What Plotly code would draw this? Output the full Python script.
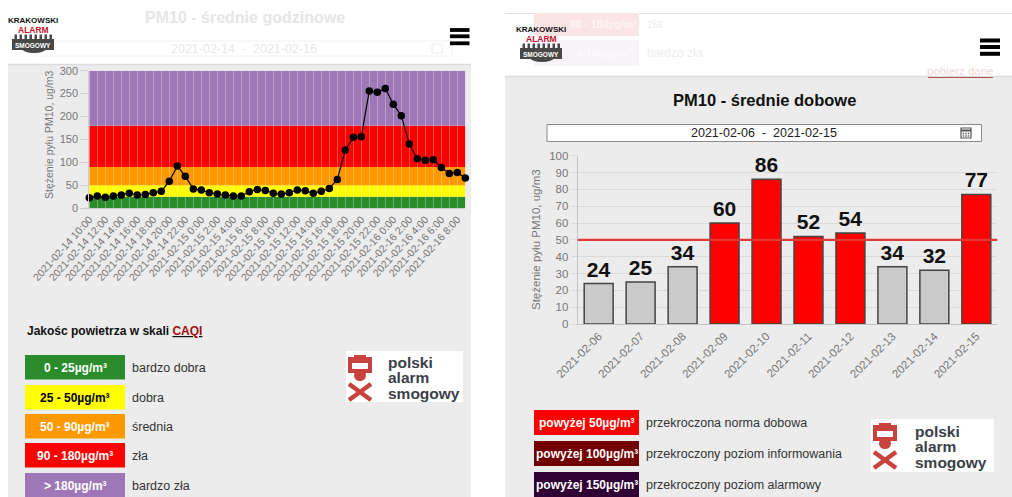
import plotly.graph_objects as go

W, H = 1012, 497
F = "Arial, Liberation Sans, sans-serif"

# ---------------- data ----------------
hour_labels = []
for i in range(48):
    h = 10 + i
    hour_labels.append(f"2021-02-{14 + h // 24:02d} {h % 24}:00")

pm10_hourly = [23, 27, 24, 27, 29, 33, 29, 30, 34, 37, 59, 92, 70, 42, 40, 34,
               31, 29, 27, 27, 36, 41, 39, 33, 31, 34, 40, 38, 33, 37, 43, 63,
               127, 155, 156, 256, 253, 261, 227, 202, 140, 108, 105, 106, 89, 76, 78, 66]
band_limits = [0, 25, 50, 90, 180, 300]
band_colors = ["#2a8c2a", "#ffff00", "#ff9900", "#ff0000", "#9e78b6"]
hourly_ticks = [0, 50, 100, 150, 200, 250, 300]

days = ["2021-02-06", "2021-02-07", "2021-02-08", "2021-02-09", "2021-02-10",
        "2021-02-11", "2021-02-12", "2021-02-13", "2021-02-14", "2021-02-15"]
pm10_daily = [24, 25, 34, 60, 86, 52, 54, 34, 32, 77]
daily_norm = 50

caqi_ranges = ["0 - 25µg/m³", "25 - 50µg/m³", "50 - 90µg/m³", "90 - 180µg/m³", "> 180µg/m³"]
caqi_names = ["bardzo dobra", "dobra", "średnia", "zła", "bardzo zła"]
caqi_text_colors = ["white", "black", "white", "white", "white"]
alert_labels = ["powyżej 50µg/m³", "powyżej 100µg/m³", "powyżej 150µg/m³"]
alert_names = ["przekroczona norma dobowa", "przekroczony poziom informowania",
               "przekroczony poziom alarmowy"]
alert_colors = ["#ff0000", "#730000", "#2e0033"]


def X(p):
    return p / W


def Y(p):
    return 1 - p / H


shapes = []
annos = []


def rect(x0, y0, x1, y1, fill, line=None, lw=1, layer="below"):
    shapes.append(dict(type="rect", xref="paper", yref="paper",
                       x0=X(x0), x1=X(x1), y0=Y(y1), y1=Y(y0),
                       fillcolor=fill, layer=layer,
                       line=dict(color=line if line else "rgba(0,0,0,0)", width=lw if line else 0)))


def seg(x0, y0, x1, y1, color, w=1, layer="above"):
    shapes.append(dict(type="line", xref="paper", yref="paper",
                       x0=X(x0), x1=X(x1), y0=Y(y0), y1=Y(y1), layer=layer,
                       line=dict(color=color, width=w)))


def ell(x0, y0, x1, y1, fill, layer="above"):
    shapes.append(dict(type="circle", xref="paper", yref="paper",
                       x0=X(x0), x1=X(x1), y0=Y(y1), y1=Y(y0), layer=layer,
                       fillcolor=fill, line=dict(width=0)))


def txt(x, y, s, size=12, color="#333", anchor="left", bold=False, angle=0):
    annos.append(dict(xref="paper", yref="paper", x=X(x), y=Y(y), text=s,
                      showarrow=False, xanchor=anchor, yanchor="middle",
                      textangle=angle,
                      font=dict(family=F, size=size, color=color,
                                weight="bold" if bold else "normal")))


# ---------------- page background ----------------
rect(8, 64, 471, 497, "#ececec")
seg(8, 64.5, 471, 64.5, "#dcdcdc", 1.5, layer="below")
rect(505, 76, 1012, 497, "#ececec")
seg(505, 76.5, 1012, 76.5, "#dcdcdc", 1.5, layer="below")
seg(505, 13.5, 1012, 13.5, "#e2e2e2", 1, layer="below")

# faded header content (left)
txt(245, 17, "PM10 - średnie godzinowe", 16, "#e6e6e6", "center", True)
rect(35, 41, 452, 56, "rgba(0,0,0,0)", "#f2f2f2", 1)
txt(244, 48.5, "2021-02-14  -  2021-02-16", 12.5, "#e8e8e8", "center")
rect(432, 44, 442, 53, "rgba(0,0,0,0)", "#ececec", 1)

# faded header content (right)
rect(534, 13, 639, 36, "#fbe4e4")
txt(603, 24, "90 - 180µg/m³", 10.5, "#fff4f4", "center", True)
txt(645, 24, "zła", 12, "#eeeeee")
rect(534, 40, 639, 66, "#f7f3f9")
txt(604, 53, "> 180µg/m³", 10.5, "#fbfafc", "center", True)
txt(645, 53, "bardzo zła", 12, "#eeeeee")
txt(960, 71, "pobierz dane", 11.5, "#efdada", "center")
seg(928, 77.5, 993, 77.5, "#b05050", 1)

# Krakowski Alarm Smogowy logos
for dx, dy in [(0, 0), (508, 9)]:
    for k in range(8):
        rect(14.5 + dx + k * 5, 34.5 + dy, 17 + dx + k * 5, 40 + dy, "#4a4a4a", layer="above")
    rect(12 + dx, 39 + dy, 54 + dx, 50 + dy, "#484848", layer="above")
    ell(22 + dx, 44 + dy, 46 + dx, 53 + dy, "#484848")
    txt(33 + dx, 21 + dy, "KRAKOWSKI", 8, "#111", "center", True)
    txt(33 + dx, 29.5 + dy, "ALARM", 8.5, "#c8102e", "center", True)
    txt(33 + dx, 46 + dy, "SMOGOWY", 6.5, "white", "center", True)

# hamburgers
for yy in [30, 36.3, 43.3]:
    rect(450, yy - 1.9, 469.5, yy + 1.9, "black", layer="above")
for yy in [40.5, 47, 53.8]:
    rect(980, yy - 2, 1000, yy + 2, "black", layer="above")

# ---------------- right titles ----------------
txt(764, 99.5, "PM10 - średnie dobowe", 16.5, "#111", "center", True)
shapes.append(dict(type="rect", xref="paper", yref="paper", x0=X(547), x1=X(981.5),
                   y0=Y(141.5), y1=Y(124.5), fillcolor="white", layer="below",
                   line=dict(color="#8a8a8a", width=1)))
txt(764, 133, days[0] + "  -  " + days[-1], 12.5, "#222", "center")
rect(961, 128, 971, 138, "white", "#555", 1.2, layer="above")
seg(961, 130.5, 971, 130.5, "#555", 2)
for cx in [963.5, 966, 968.5]:
    for cy in [133.5, 136]:
        rect(cx - 0.7, cy - 0.7, cx + 0.7, cy + 0.7, "#555", layer="above")

# ---------------- left legend ----------------
txt(25, 330.5, "Jakośc powietrza w skali <u><span style='color:#a01010'>CAQI</span></u>",
    12, "#111", "left", True)
caqi_box_y = [355, 385, 414, 443, 473]
for i, name in enumerate(caqi_names):
    y0 = caqi_box_y[i]
    rect(25, y0, 125, y0 + 24.5, band_colors[i])
    txt(75, y0 + 12.5, caqi_ranges[i], 12, caqi_text_colors[i], "center", True)
    txt(130, y0 + 12.5, name, 12.5, "#333")

# ---------------- right legend ----------------
alert_box_y = [410, 441, 472]
for i, name in enumerate(alert_names):
    y0 = alert_box_y[i]
    rect(534, y0, 639, min(y0 + 25, 497), alert_colors[i])
    txt(586.5, y0 + 12.5, alert_labels[i], 12, "white", "center", True)
    txt(644, y0 + 12.5, name, 12.5, "#333")


# ---------------- polski alarm smogowy logos ----------------
def pas_logo(x0, y0, x1, y1, ix, iy, tx, ty):
    rect(x0, y0, x1, y1, "white", layer="above")
    red = "#c8423e"
    rect(ix, iy, ix + 24, iy + 16, red, layer="above")
    rect(ix + 4, iy + 6, ix + 20, iy + 12, "white", layer="above")
    rect(ix + 6, iy - 2, ix + 18, iy + 2, red, layer="above")
    ell(ix + 6, iy + 13, ix + 18, iy + 24, red)
    seg(ix + 1, iy + 27, ix + 23, iy + 43, red, 4.5)
    seg(ix + 23, iy + 27, ix + 1, iy + 43, red, 4.5)
    for k, w in enumerate(["polski", "alarm", "smogowy"]):
        txt(tx, ty + k * 15.5, w, 15.5, "#3b3f48", "left", True)


pas_logo(346, 351, 463, 402, 348, 357, 386, 362)
pas_logo(871, 419, 994, 472, 873, 425, 913, 431)

# axis titles
txt(49, 135, "Stężenie pyłu PM10, ug/m3", 10.5, "#777", "center", False, -90)
txt(536, 240, "Stężenie pyłu PM10, ug/m3", 11.5, "#777", "center", False, -90)

# ---------------- charts ----------------
for i in range(len(band_colors)):
    shapes.append(dict(type="rect", xref="x", yref="y", x0=0, x1=len(pm10_hourly) - 1,
                       y0=band_limits[i], y1=band_limits[i + 1], fillcolor=band_colors[i],
                       line=dict(width=0), layer="below"))
shapes.append(dict(type="line", xref="x2 domain", yref="y2", x0=0, x1=1,
                   y0=daily_norm, y1=daily_norm, layer="above",
                   line=dict(color="#e23a36", width=2.2)))

fig = go.Figure()
fig.add_trace(go.Scatter(x=list(range(len(pm10_hourly))), y=pm10_hourly,
                         mode="lines+markers", cliponaxis=False,
                         line=dict(color="black", width=1.2),
                         marker=dict(size=7.5, color="black"),
                         xaxis="x", yaxis="y", hoverinfo="skip"))
bar_colors = ["#ff0000" if v > daily_norm else "#cacaca" for v in pm10_daily]
fig.add_trace(go.Bar(x=days, y=pm10_daily, width=0.69,
                     marker=dict(color=bar_colors, line=dict(color="#444", width=1.5)),
                     texttemplate="%{y}", textposition="outside", cliponaxis=False,
                     constraintext="none",
                     textfont=dict(family=F, size=21, color="#111", weight="bold"),
                     xaxis="x2", yaxis="y2", hoverinfo="skip"))

fig.update_layout(
    template="none",
    width=W, height=H, margin=dict(l=0, r=0, t=0, b=0, pad=0, autoexpand=False),
    paper_bgcolor="white", plot_bgcolor="rgba(0,0,0,0)",
    showlegend=False, font=dict(family=F),
    shapes=shapes, annotations=annos,
    xaxis=dict(domain=[X(89.3), X(465.3)], range=[0, len(pm10_hourly) - 1],
               tickmode="array", tickvals=list(range(len(hour_labels))),
               ticktext=[lab if i % 2 == 0 else "" for i, lab in enumerate(hour_labels)],
               tickangle=-48, tickfont=dict(size=10.5, color="#777"),
               showgrid=True, gridcolor="rgba(255,255,255,0.28)", gridwidth=1,
               zeroline=False, showline=True, linecolor="#cfcfcf", ticks="",
               automargin=False, fixedrange=True),
    yaxis=dict(domain=[Y(208.3), Y(70.7)], range=[0, 300], tickmode="array",
               tickvals=hourly_ticks, tickfont=dict(size=11, color="#777"),
               showgrid=False, zeroline=False, showline=True, linecolor="#cfcfcf",
               ticks="outside", ticklen=8, tickcolor="#cfcfcf",
               automargin=False, fixedrange=True),
    xaxis2=dict(domain=[X(577.7), X(997.3)], type="category", anchor="y2",
                range=[-0.5, len(days) - 0.5], tickangle=-45,
                tickfont=dict(size=11.5, color="#777"), showgrid=False,
                showline=True, linecolor="#c4c4c4", ticks="",
                automargin=False, fixedrange=True),
    yaxis2=dict(domain=[Y(324), Y(155.7)], range=[0, 100], dtick=10, anchor="x2",
                tickfont=dict(size=11.5, color="#777"), showgrid=True,
                gridcolor="#dadada", zeroline=False, showline=True, linecolor="#c4c4c4",
                ticks="outside", ticklen=6, tickcolor="#dadada",
                automargin=False, fixedrange=True),
)

fig.write_html("out.html", config={"displayModeBar": False},
               post_script="document.body.style.margin='0px';"
                           "document.body.style.overflow='hidden';")
